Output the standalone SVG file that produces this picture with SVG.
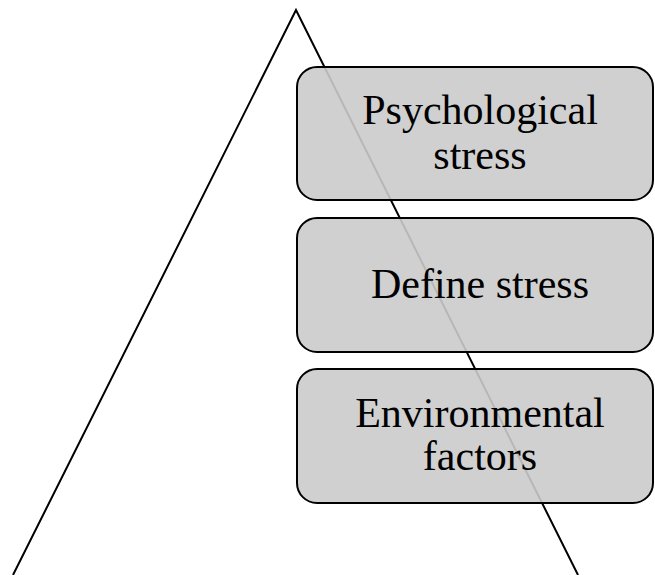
<svg xmlns="http://www.w3.org/2000/svg" width="655" height="575" viewBox="0 0 655 575">
<style>
.box{fill:#cbcbcb;fill-opacity:0.9;stroke:#000;stroke-width:2}
.t{font-family:"Liberation Serif","Times New Roman",serif;font-size:42px;fill:#000;text-anchor:middle}
</style>
<rect width="655" height="575" fill="#fff"/>
<g id="connectors">
<polyline points="13,575 296,10 578,575" fill="none" stroke="#000" stroke-width="2"/>
</g>
<g id="node1">
<rect class="box" x="297" y="67" width="356" height="133" rx="20"/>
<text class="t" x="480" y="124">Psychological</text>
<text class="t" x="480" y="169">stress</text>
</g>
<g id="node2">
<rect class="box" x="297" y="218" width="356" height="134" rx="20"/>
<text class="t" x="480" y="298">Define stress</text>
</g>
<g id="node3">
<rect class="box" x="297" y="369" width="356" height="134" rx="20"/>
<text class="t" x="480" y="427">Environmental</text>
<text class="t" x="480" y="470">factors</text>
</g>
</svg>
